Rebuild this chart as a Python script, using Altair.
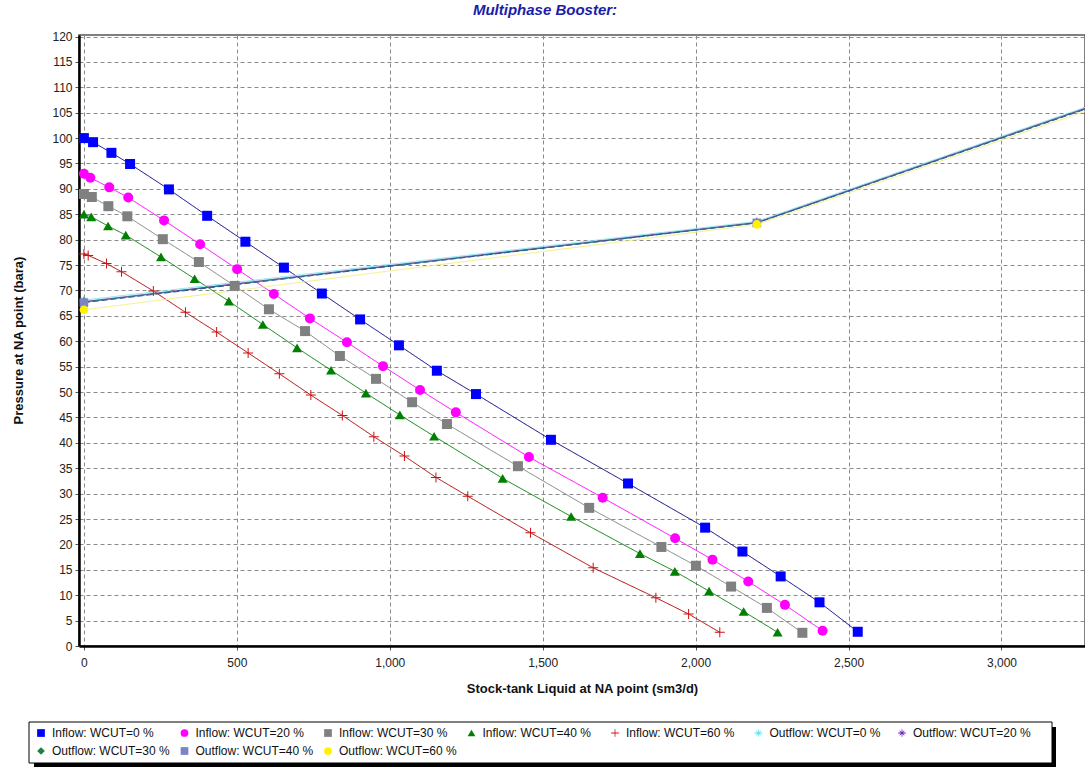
import altair as alt
import pandas as pd

chart_title = "Multiphase Booster:"
x_title = "Stock-tank Liquid at NA point (sm3/d)"
y_title = "Pressure at NA point (bara)"

series_names = [
    "Inflow: WCUT=0 %", "Inflow: WCUT=20 %", "Inflow: WCUT=30 %",
    "Inflow: WCUT=40 %", "Inflow: WCUT=60 %",
    "Outflow: WCUT=0 %", "Outflow: WCUT=20 %", "Outflow: WCUT=30 %",
    "Outflow: WCUT=40 %", "Outflow: WCUT=60 %",
]

# Inflow curves (rate sm3/d, pressure bara)
in0_rate = [0, 30, 90, 151, 278, 403, 528, 654, 778, 903, 1030, 1154, 1282, 1527, 1779, 2031, 2153, 2278, 2405, 2530]
in0_p = [100, 99.2, 97.1, 94.9, 89.9, 84.7, 79.6, 74.5, 69.4, 64.3, 59.2, 54.2, 49.6, 40.6, 32.0, 23.3, 18.6, 13.7, 8.6, 2.8]

in20_rate = [0, 21, 83, 145, 262, 380, 501, 621, 739, 860, 978, 1099, 1216, 1455, 1696, 1933, 2055, 2172, 2292, 2415]
in20_p = [93.0, 92.2, 90.3, 88.3, 83.8, 79.1, 74.2, 69.3, 64.5, 59.8, 55.1, 50.4, 46.0, 37.2, 29.2, 21.2, 17.0, 12.7, 8.1, 3.0]

in30_rate = [0, 26, 80, 142, 258, 376, 493, 605, 723, 837, 955, 1073, 1187, 1419, 1652, 1888, 2001, 2116, 2233, 2349]
in30_p = [89.0, 88.4, 86.6, 84.6, 80.1, 75.6, 70.9, 66.3, 62.0, 57.1, 52.6, 48.0, 43.7, 35.4, 27.2, 19.5, 15.8, 11.7, 7.5, 2.6]

in40_rate = [0, 24, 79, 137, 252, 362, 474, 585, 697, 808, 922, 1033, 1145, 1369, 1593, 1818, 1932, 2044, 2157, 2268]
in40_p = [85.0, 84.5, 82.7, 80.9, 76.6, 72.3, 67.9, 63.3, 58.7, 54.3, 49.8, 45.5, 41.3, 33.0, 25.5, 18.2, 14.7, 10.8, 6.8, 2.7]

in60_rate = [0, 14, 74, 123, 227, 332, 434, 537, 639, 742, 845, 948, 1048, 1151, 1255, 1460, 1665, 1870, 1977, 2079]
in60_p = [77.2, 76.9, 75.3, 73.7, 69.9, 65.7, 61.8, 57.7, 53.6, 49.4, 45.4, 41.2, 37.4, 33.2, 29.5, 22.3, 15.4, 9.5, 6.3, 2.7]

# Outflow curves: last point is where the curve leaves the visible area (no marker)
out_rate = [0, 2200, 3280]
out0_p = [68.1, 83.6, 106.2]
out20_p = [67.8, 83.4, 106.0]
out30_p = [67.7, 83.3, 105.9]
out40_p = [67.6, 83.3, 105.8]
out60_p = [66.2, 83.0, 105.4]
out_marker = [True, True, False]

point_colors = ["#0000FF", "#FF00FF", "#808080", "#008000", "#D01010",
                "#60E0F0", "#7020C0", "#208040", "#7C84C4", "#FFF200"]
line_colors = ["#000080", "#FF00FF", "#808080", "#008000", "#B00000",
               "#7FE5F5", "#5A3AA0", "#2F6A60", "#2F55A8", "#F2F080"]
line_widths = [1, 1, 1, 1, 1, 5, 1.2, 1.2, 2, 2]
line_dashes = [[1, 0]] * 8 + [[6, 3], [1, 0]]

plus_path = "M-1,-0.1L1,-0.1L1,0.1L-1,0.1Z M-0.1,-1L0.1,-1L0.1,1L-0.1,1Z"
star_path = ("M-1,-0.1L1,-0.1L1,0.1L-1,0.1Z M-0.1,-1L0.1,-1L0.1,1L-0.1,1Z "
             "M-0.67,-0.53L-0.53,-0.67L0.67,0.53L0.53,0.67Z "
             "M-0.67,0.53L0.53,-0.67L0.67,-0.53L-0.53,0.67Z")
shapes = ["square", "circle", "square", "triangle-up", plus_path,
          star_path, star_path, "diamond", "square", "circle"]

inflows = [(in0_rate, in0_p), (in20_rate, in20_p), (in30_rate, in30_p),
           (in40_rate, in40_p), (in60_rate, in60_p)]
outflows = [out0_p, out20_p, out30_p, out40_p, out60_p]

rows = []
for k, (xs, ys) in enumerate(inflows):
    for i, (a, b) in enumerate(zip(xs, ys)):
        rows.append({"series": series_names[k], "rate": a, "pressure": b,
                     "order": i, "marker": True, "kind": "in"})
for k, ys in enumerate(outflows):
    for i, (a, b, m) in enumerate(zip(out_rate, ys, out_marker)):
        rows.append({"series": series_names[5 + k], "rate": a, "pressure": b,
                     "order": i, "marker": m, "kind": "out"})
df = pd.DataFrame(rows)
df["line_series"] = df["series"]

legend_df = pd.DataFrame({"series": series_names, "idx": list(range(len(series_names)))})

FONT = "Liberation Sans"

x_enc = alt.X("rate:Q", scale=alt.Scale(domain=[-16, 3273], nice=False, zero=False),
              axis=alt.Axis(title=x_title, values=[0, 500, 1000, 1500, 2000, 2500, 3000],
                            format=",.0f", labelPadding=7, titleY=42, titleBaseline="middle"))
y_enc = alt.Y("pressure:Q", scale=alt.Scale(domain=[0, 120.3], nice=False),
              axis=alt.Axis(title=y_title, values=list(range(0, 121, 5)),
                            labelPadding=3, titleX=-61, titleY=305,
                            titleAngle=-90, titleAlign="center", titleBaseline="middle"))

color_enc = alt.Color("series:N", scale=alt.Scale(domain=series_names, range=point_colors),
                      legend=None)
shape_enc = alt.Shape("series:N", scale=alt.Scale(domain=series_names, range=shapes),
                      legend=None)

base = alt.Chart(df)

lines = base.mark_line(clip=True).encode(
    x=x_enc, y=y_enc,
    stroke=alt.Stroke("line_series:N", scale=alt.Scale(domain=series_names, range=line_colors), legend=None),
    strokeWidth=alt.StrokeWidth("line_series:O", scale=alt.Scale(domain=series_names, range=line_widths), legend=None),
    strokeDash=alt.StrokeDash("line_series:N", scale=alt.Scale(domain=series_names, range=line_dashes), legend=None),
    order="order:Q",
)

points_in = base.transform_filter(alt.datum.kind == "in").mark_point(
    filled=True, opacity=1, clip=True, size=100
).encode(x=x_enc, y=y_enc, color=color_enc, shape=shape_enc)

points_out = base.transform_filter((alt.datum.kind == "out") & alt.datum.marker).mark_point(
    filled=True, opacity=1, clip=True, size=75
).encode(x=x_enc, y=y_enc, color=color_enc, shape=shape_enc)

# Legend box (drawn by hand: two rows of up to seven entries)
one = alt.Chart(pd.DataFrame({"a": [0]}))
legend_shadow = one.mark_rect(color="black").encode(
    x=alt.value(-45), x2=alt.value(977), y=alt.value(692), y2=alt.value(733))
legend_box = one.mark_rect(fill="white", stroke="black", strokeWidth=1).encode(
    x=alt.value(-50), x2=alt.value(973), y=alt.value(687), y2=alt.value(728))

legend_base = alt.Chart(legend_df).transform_calculate(
    lx="-38 + (datum.idx % 7) * 143.5",
    ly="698 + floor(datum.idx / 7) * 18",
)
legend_syms = legend_base.mark_point(filled=True, opacity=1, size=60).encode(
    x=alt.X("lx:Q", scale=None), y=alt.Y("ly:Q", scale=None),
    color=color_enc, shape=shape_enc,
)
legend_text = legend_base.mark_text(align="left", baseline="middle", dx=11,
                                    font=FONT, fontSize=12, color="#111").encode(
    x=alt.X("lx:Q", scale=None), y=alt.Y("ly:Q", scale=None), text="series:N",
)

chart = alt.layer(lines, points_in, points_out, legend_shadow, legend_box,
                  legend_syms, legend_text).properties(
    width=1006, height=611,
    title=alt.Title(chart_title, font=FONT, fontSize=15, fontWeight="bold", fontStyle="italic",
                    color="#1c1ca8", anchor="middle", dx=-37, offset=13),
    autosize=alt.AutoSizeParams(type="none"),
    padding={"left": 79, "top": 35, "right": 0, "bottom": 121},
).configure_view(
    stroke="#555", strokeWidth=1.5
).configure_axis(
    domainColor="black", domainWidth=2.5,
    grid=True, gridColor="#8a8a8a", gridDash=[4, 3], gridWidth=1,
    tickColor="#555", tickSize=4,
    labelFont=FONT, labelFontSize=12, labelColor="#222",
    titleFont=FONT, titleFontSize=13, titleFontWeight="bold", titleColor="#111",
)

chart.save("out.html", embed_options={"renderer": "svg", "actions": False})
